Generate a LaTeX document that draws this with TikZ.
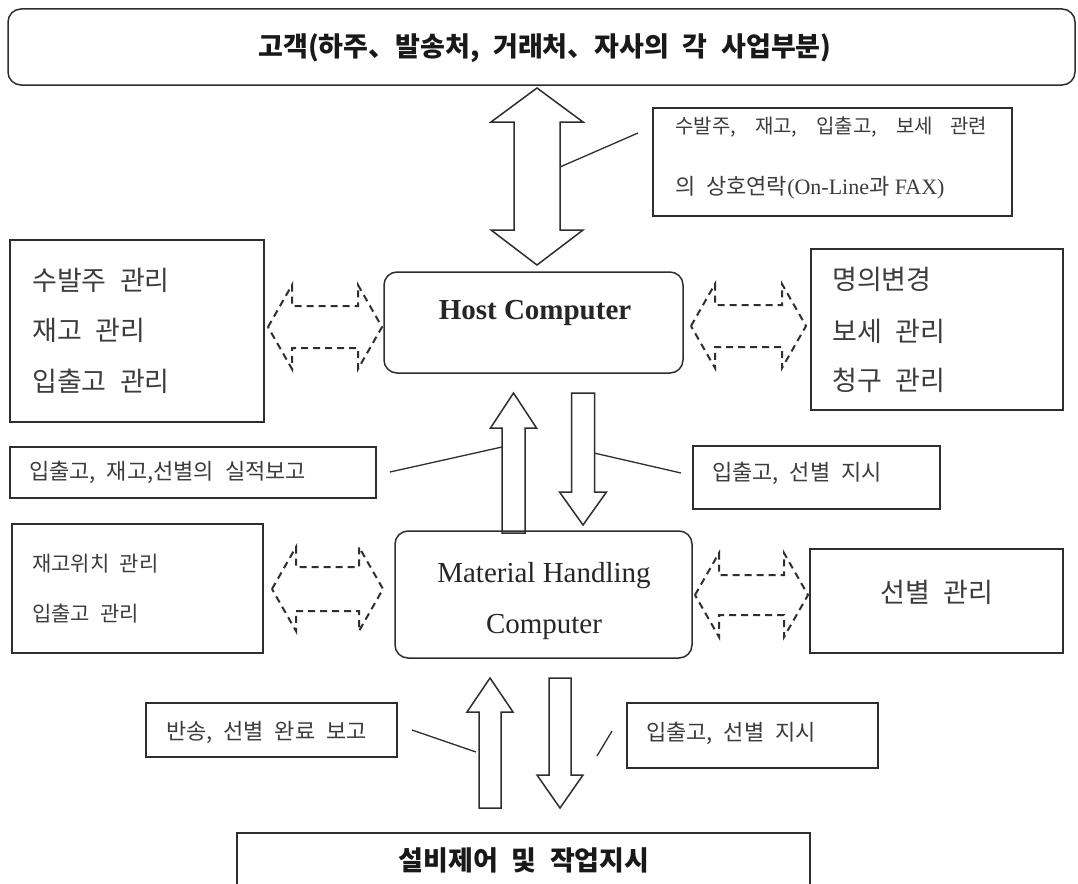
\documentclass[tikz,border=0pt]{standalone}
\usepackage{fontspec}
\setmainfont{Liberation Serif}
\newfontfamily\kr{Noto Sans CJK KR}[WordSpace=2.2]
\definecolor{lc}{HTML}{2E2E2E}
\definecolor{tc}{HTML}{3C3C3C}
\newcommand\boxat[6]{\node[#2,minimum width={(#5)-(#3)},minimum height={(#6)-(#4)}] (#1) at ({((#3)+(#5))/2},{((#4)+(#6))/2}) {};}
% dashed double arrow: x1 x2 yc headhalf shafthalf
\newcommand\dda[5]{\draw[dsh] (#1,#3) -- ({#1+24},{#3-#4}) -- ({#1+24},{#3-#5}) -- ({#2-24},{#3-#5}) -- ({#2-24},{#3-#4}) -- (#2,#3) -- ({#2-24},{#3+#4}) -- ({#2-24},{#3+#5}) -- ({#1+24},{#3+#5}) -- ({#1+24},{#3+#4}) -- cycle;}
% block arrow: xc tip base end headhalf shafthalf
\newcommand\blkarrow[6]{\draw[blk] (#1,#2) -- ({#1+#5},#3) -- ({#1+#6},#3) -- ({#1+#6},#4) -- ({#1-#6},#4) -- ({#1-#6},#3) -- ({#1-#5},#3) -- cycle;}
\begin{document}
\begin{tikzpicture}[x=1pt,y=-1pt,
  box/.style={draw=lc,line width=1.5pt,inner sep=0pt},
  rbox/.style={box,rounded corners=13pt},
  blk/.style={draw=lc,line width=1.5pt,fill=white,line join=miter},
  dsh/.style={draw=lc,line width=2pt,dash pattern=on 7pt off 5pt},
  lead/.style={draw=lc,line width=1.3pt},
  txt/.style={inner sep=0pt,anchor=west,text=tc},
  ttl/.style={inner sep=0pt,text=black!90,font=\kr\bfseries\fontsize{27}{27}\selectfont},
  big/.style={txt,font=\kr\fontsize{27}{27}\selectfont},
  mid/.style={txt,font=\kr\fontsize{22}{22}\selectfont},
  sml/.style={txt,font=\kr\fontsize{21}{21}\selectfont},
]
\useasboundingbox (0,0) rectangle (1078,883);
\fill[white] (0,0) rectangle (1078,883);

% top customer box
\boxat{top}{rbox}{8}{9}{1075}{85}
\node[ttl] (ttop) at (545,48) {고객(하주、발송처, 거래처、자사의 각 사업부분)};

% big double arrow
\draw[blk] (537,88) -- (583,122) -- (560,122) -- (560,230) -- (583,230) -- (537,265)
  -- (491,230) -- (514,230) -- (514,122) -- (491,122) -- cycle;

% callout
\boxat{co}{box}{653}{108}{1012}{216}
\node[sml,font=\kr\fontsize{20}{20}\selectfont] (co1) at (675,127) {\makebox[312pt][s]{수발주, 재고, 입출고, 보세 관련}};
\node[txt,font=\fontsize{22}{22}\selectfont] (co2) at (675,188) {{\kr 의 상호연락}(On-Line{\kr 과} FAX)};
\coordinate (cl1) at (560,167);
\coordinate (cl2) at (638,133);
\draw[lead] (cl1) -- (cl2);

% left management box
\boxat{lb}{box}{10}{240}{264}{422}
\node[big] (lb1) at (32,280) {수발주 관리};
\node[big] (lb2) at (32,330) {재고 관리};
\node[big] (lb3) at (32,381) {입출고 관리};

% right management box
\boxat{rb}{box}{811}{249}{1063}{410}
\node[big] (rb1) at (832,279) {명의변경};
\node[big] (rb2) at (832,331) {보세 관리};
\node[big] (rb3) at (832,380) {청구 관리};

% host computer
\boxat{host}{rbox}{384}{272}{683}{373}
\node[inner sep=0pt,text=black!85,font=\bfseries\fontsize{29}{29}\selectfont] (hostt) at (535,313) {Host Computer};

\dda{268}{382}{327}{42}{21}
\dda{691}{806}{326}{42}{21}

% arrows between host and MHC
\blkarrow{513.5}{393}{428}{533}{23}{11.5}
\blkarrow{583}{525}{492}{393}{23.5}{11.5}

% mid labels
\boxat{lm}{box}{10}{447}{376}{498}
\node[mid] (lmt) at (29,472) {입출고, 재고,선별의 실적보고};
\coordinate (lm1) at (390,472);
\coordinate (lm2) at (502,447);
\draw[lead] (lm1) -- (lm2);

\boxat{rm}{box}{693}{446}{940}{509}
\node[mid] (rmt) at (712,473) {입출고, 선별 지시};
\coordinate (rm1) at (594,453);
\coordinate (rm2) at (681,473);
\draw[lead] (rm1) -- (rm2);

% lower left box
\boxat{llb}{box}{12}{524}{263}{653}
\node[sml] (llb1) at (32,564) {재고위치 관리};
\node[sml] (llb2) at (32,614) {입출고 관리};

% MHC
\boxat{mhc}{rbox}{395}{531}{692}{658}
\node[inner sep=0pt,text=black!85,font=\fontsize{29}{29}\selectfont] (mhc1) at (544,576) {Material Handling};
\node[inner sep=0pt,text=black!85,font=\fontsize{29}{29}\selectfont] (mhc2) at (544,627) {Computer};

\dda{272}{383}{589}{42}{22}
\dda{695}{808}{595}{42}{20}

% lower right box
\boxat{lrb}{box}{810}{549}{1063}{653}
\node[inner sep=0pt,text=tc,font=\kr\fontsize{27}{27}\selectfont] (lrbt) at (937,592) {선별 관리};

% arrows between MHC and equipment
\blkarrow{490}{678}{712}{808}{23}{11}
\blkarrow{560}{808}{775}{678}{23}{11}

\boxat{lb3}{box}{146}{703}{397}{757}
\node[mid] (lb3t) at (166,732) {반송, 선별 완료 보고};
\coordinate (lb3a) at (412,730);
\coordinate (lb3b) at (476,752);
\draw[lead] (lb3a) -- (lb3b);

\boxat{rb3}{box}{627}{703}{878}{768}
\node[mid] (rb3t) at (646,733) {입출고, 선별 지시};
\coordinate (rb3a) at (612,731);
\coordinate (rb3b) at (597,756);
\draw[lead] (rb3a) -- (rb3b);

% bottom box
\boxat{bot}{box}{237}{833}{810}{900}
\node[ttl] (bott) at (524,860) {설비제어 및 작업지시};
\end{tikzpicture}
\end{document}
